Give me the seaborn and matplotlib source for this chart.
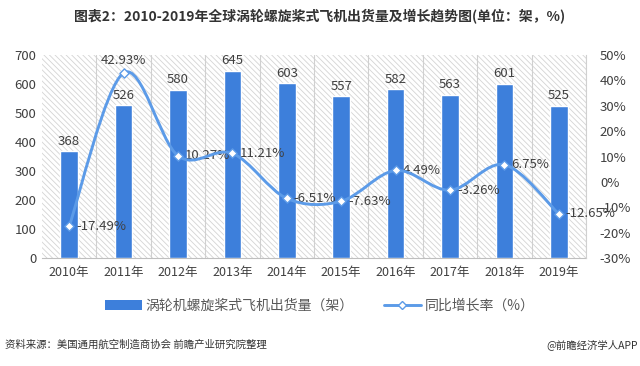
import matplotlib
matplotlib.use("Agg")
import matplotlib.pyplot as plt
from matplotlib.path import Path
from matplotlib.patches import PathPatch
from matplotlib.lines import Line2D
from matplotlib.patches import Patch
import seaborn as sns
import numpy as np
import pandas as pd

# data
years = ["2010年", "2011年", "2012年", "2013年", "2014年",
         "2015年", "2016年", "2017年", "2018年", "2019年"]
shipments = [368, 526, 580, 645, 603, 557, 582, 563, 601, 525]
growth = [-17.49, 42.93, 10.27, 11.21, -6.51, -7.63, 4.49, -3.26, 6.75, -12.65]

BAR_COLOR = "#3D7FDB"
LINE_COLOR = "#5C9BE8"
TEXT_COLOR = "#404040"

sns.set_style("white")
plt.rcParams["font.family"] = ["Noto Sans CJK SC", "DejaVu Sans"]
plt.rcParams["hatch.linewidth"] = 0.6

fig = plt.figure(figsize=(6.4, 3.66), dpi=100)
ax = fig.add_axes([42 / 640, 1 - 258 / 366, (586 - 42) / 640, (258 - 55) / 366])

# hatched plot-area background
ax.set_facecolor("white")
ax.patch.set_hatch("\\\\\\\\\\\\")
ax.patch.set_edgecolor("#d4d4d4")
ax.patch.set_linewidth(0)

df = pd.DataFrame({"year": years, "shipments": shipments, "growth": growth})
sns.barplot(data=df, x="year", y="shipments", color=BAR_COLOR, width=0.32,
            saturation=1, ax=ax, zorder=3)
ax.set_xlim(-0.5, len(years) - 0.5)
ax.set_ylim(0, 700)
ax.set_yticks(np.arange(0, 701, 100))
ax.set_xlabel("")
ax.set_ylabel("")

# vertical separators between categories
ax.set_xticks(np.arange(len(years)) + 0.5, minor=True)
ax.grid(which="minor", axis="x", color="#d0d0d0", linewidth=0.8, zorder=1)
ax.tick_params(axis="x", which="major", length=0, pad=6, labelsize=9, colors=TEXT_COLOR)
ax.tick_params(axis="x", which="minor", length=4, color="#bfbfbf", width=0.8)
ax.tick_params(axis="y", length=0, labelsize=9.5, colors=TEXT_COLOR, pad=4)
for s in ["top", "left", "right"]:
    ax.spines[s].set_visible(False)
ax.spines["bottom"].set_color("#bfbfbf")

for i, v in enumerate(shipments):
    ax.text(i, v + 12, str(v), ha="center", va="bottom", fontsize=9.5, color=TEXT_COLOR)

# growth line on the secondary axis
ax2 = ax.twinx()
ax2.set_ylim(-30, 50)
ax2.set_yticks(np.arange(-30, 51, 10))
ax2.set_yticklabels([f"{t}%" for t in range(-30, 51, 10)])
ax2.tick_params(axis="y", length=0, labelsize=9.5, colors=TEXT_COLOR, pad=10)
for s in ["top", "left", "bottom"]:
    ax2.spines[s].set_visible(False)
ax2.spines["right"].set_color("#d0d0d0")

# smooth curve through the points (Catmull-Rom as cubic Bezier)
pts = np.column_stack([np.arange(len(growth)), growth]).astype(float)
ext = np.vstack([pts[0], pts, pts[-1]])
verts = [tuple(pts[0])]
codes = [Path.MOVETO]
for i in range(len(pts) - 1):
    p0, p1, p2, p3 = ext[i], ext[i + 1], ext[i + 2], ext[i + 3]
    c1 = p1 + (p2 - p0) / 6
    c2 = p2 - (p3 - p1) / 6
    verts += [tuple(c1), tuple(c2), tuple(p2)]
    codes += [Path.CURVE4] * 3
ax2.add_patch(PathPatch(Path(verts, codes), facecolor="none",
                        edgecolor=LINE_COLOR, linewidth=2.1, zorder=4))
sns.scatterplot(x=np.arange(len(growth)), y=growth, marker="D", s=22,
                color="white", edgecolor=LINE_COLOR, linewidth=1.0, ax=ax2, zorder=5)
ax2.set_xlim(-0.5, len(years) - 0.5)

for i, g in enumerate(growth):
    if i == 1:
        ax2.text(i, g + 2.5, f"{g:.2f}%", ha="center", va="bottom",
                 fontsize=9.5, color=TEXT_COLOR)
    else:
        ax2.text(i + 0.13, g, f"{g:.2f}%", ha="left", va="center",
                 fontsize=9.5, color=TEXT_COLOR)

# title
fig.text(0.5, 1 - 17 / 366, "图表2：2010-2019年全球涡轮螺旋桨式飞机出货量及增长趋势图(单位：架，%)",
         ha="center", va="center", fontsize=10, fontweight="bold", color="#333333")

# legend
handles = [
    Patch(facecolor=BAR_COLOR, edgecolor="none"),
    Line2D([0], [0], color=LINE_COLOR, linewidth=2.1, marker="D", markersize=4.5,
           markerfacecolor="white", markeredgecolor=LINE_COLOR),
]
labels = ["涡轮机螺旋桨式飞机出货量（架）", "同比增长率（%）"]
fig.legend(handles, labels, loc="center", bbox_to_anchor=(0.5, 1 - 306 / 366),
           ncol=2, frameon=False, fontsize=10, handlelength=2.6,
           columnspacing=2.2, handletextpad=0.3, labelcolor="#595959")

# footer
fig.text(5 / 640, 1 - 345 / 366, "资料来源：美国通用航空制造商协会 前瞻产业研究院整理",
         ha="left", va="center", fontsize=7.5, color="#333333")
fig.text(638 / 640, 1 - 345 / 366, "@前瞻经济学人APP",
         ha="right", va="center", fontsize=7.5, color="#333333")

fig.savefig("out.png", dpi=100)
